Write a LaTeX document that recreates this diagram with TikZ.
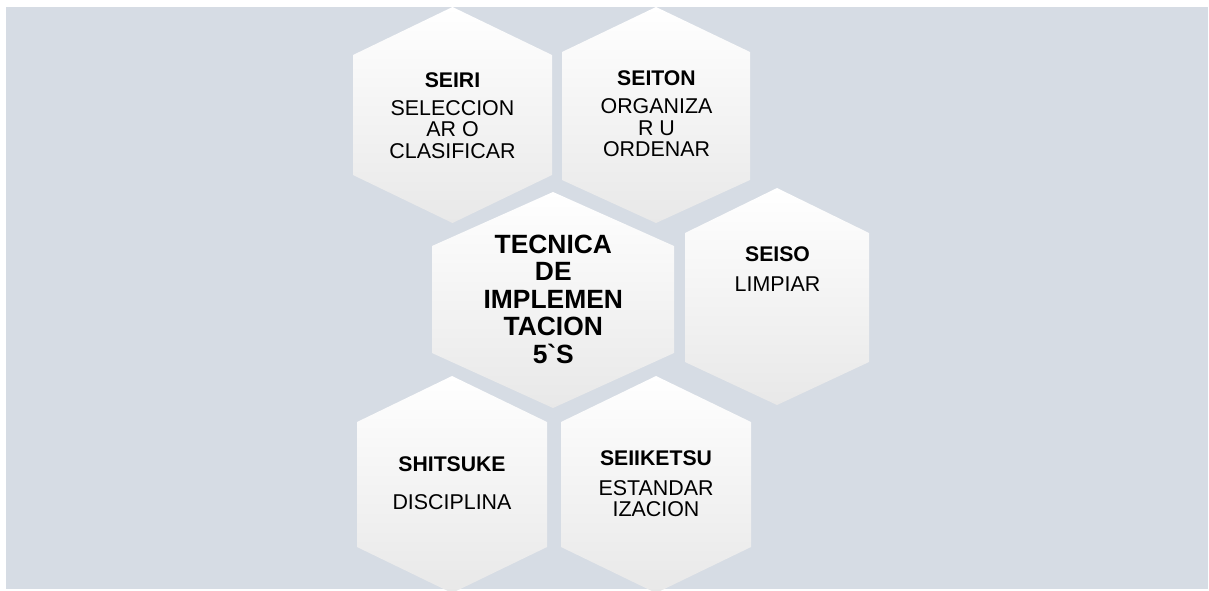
\documentclass[tikz,border=0pt]{standalone}
\usepackage{fontspec}
\setmainfont{Liberation Sans}
\definecolor{fondo}{HTML}{D6DCE4}
\tikzset{
	hexa/.style={top color=white, middle color=white, bottom color=black!9},
	titulo/.style={inner sep=0pt, anchor=base, font=\bfseries\fontsize{10.6}{10.8}\selectfont},
	texto/.style={inner sep=0pt, anchor=base, align=center, font=\fontsize{10.7}{10.8}\selectfont},
	central/.style={inner sep=0pt, anchor=base, align=center, font=\bfseries\fontsize{13.2}{13.75}\selectfont},
}
% centro x, medio ancho, y de los seis vertices (arriba, esquinas, abajo)
\newcommand{\hexagono}[6]{%
	\shade[hexa] (#1,#3) -- (#1+#2,#4) -- (#1+#2,#5) -- (#1,#6) -- (#1-#2,#5) -- (#1-#2,#4) -- cycle;
}
\begin{document}
\begin{tikzpicture}[x=0.5pt, y=-0.5pt]
	\useasboundingbox (0,0) rectangle (1209,590);
	\fill[fondo] (6,7) rectangle (1208,589);

	\hexagono{452.5}{99.5}{7}{55}{175}{223}
	\hexagono{656}{94}{7}{52}{180}{223}
	\hexagono{553}{121}{192}{246}{353}{408}
	\hexagono{777}{92}{188}{233}{362}{405}
	\hexagono{452}{95}{376}{422}{547}{593}
	\hexagono{656}{95}{376}{422}{547}{593}

	% en los textos de varias lineas, la base es la de la ultima linea
	\node[titulo] (seiri) at (452.5,87.3) {SEIRI};
	\node[texto] (seiri-txt) at (452.5,158.3) {SELECCION\\AR O\\CLASIFICAR};
	\node[titulo] (seiton) at (656.5,85) {SEITON};
	\node[texto] (seiton-txt) at (656.5,156.7) {ORGANIZA\\R U\\ORDENAR};
	\node[central] (tecnica) at (553.3,363.3) {TECNICA\\DE\\IMPLEMEN\\TACION\\5\textasciigrave S};
	\node[titulo] (seiso) at (777.5,261.7) {SEISO};
	\node[texto] (seiso-txt) at (777.5,291.7) {LIMPIAR};
	\node[titulo] (shitsuke) at (452,471.7) {SHITSUKE};
	\node[texto] (shitsuke-txt) at (452,509) {DISCIPLINA};
	\node[titulo] (seiiketsu) at (656,465) {SEIIKETSU};
	\node[texto] (seiiketsu-txt) at (656,516.7) {ESTANDAR\\IZACION};
\end{tikzpicture}
\end{document}
